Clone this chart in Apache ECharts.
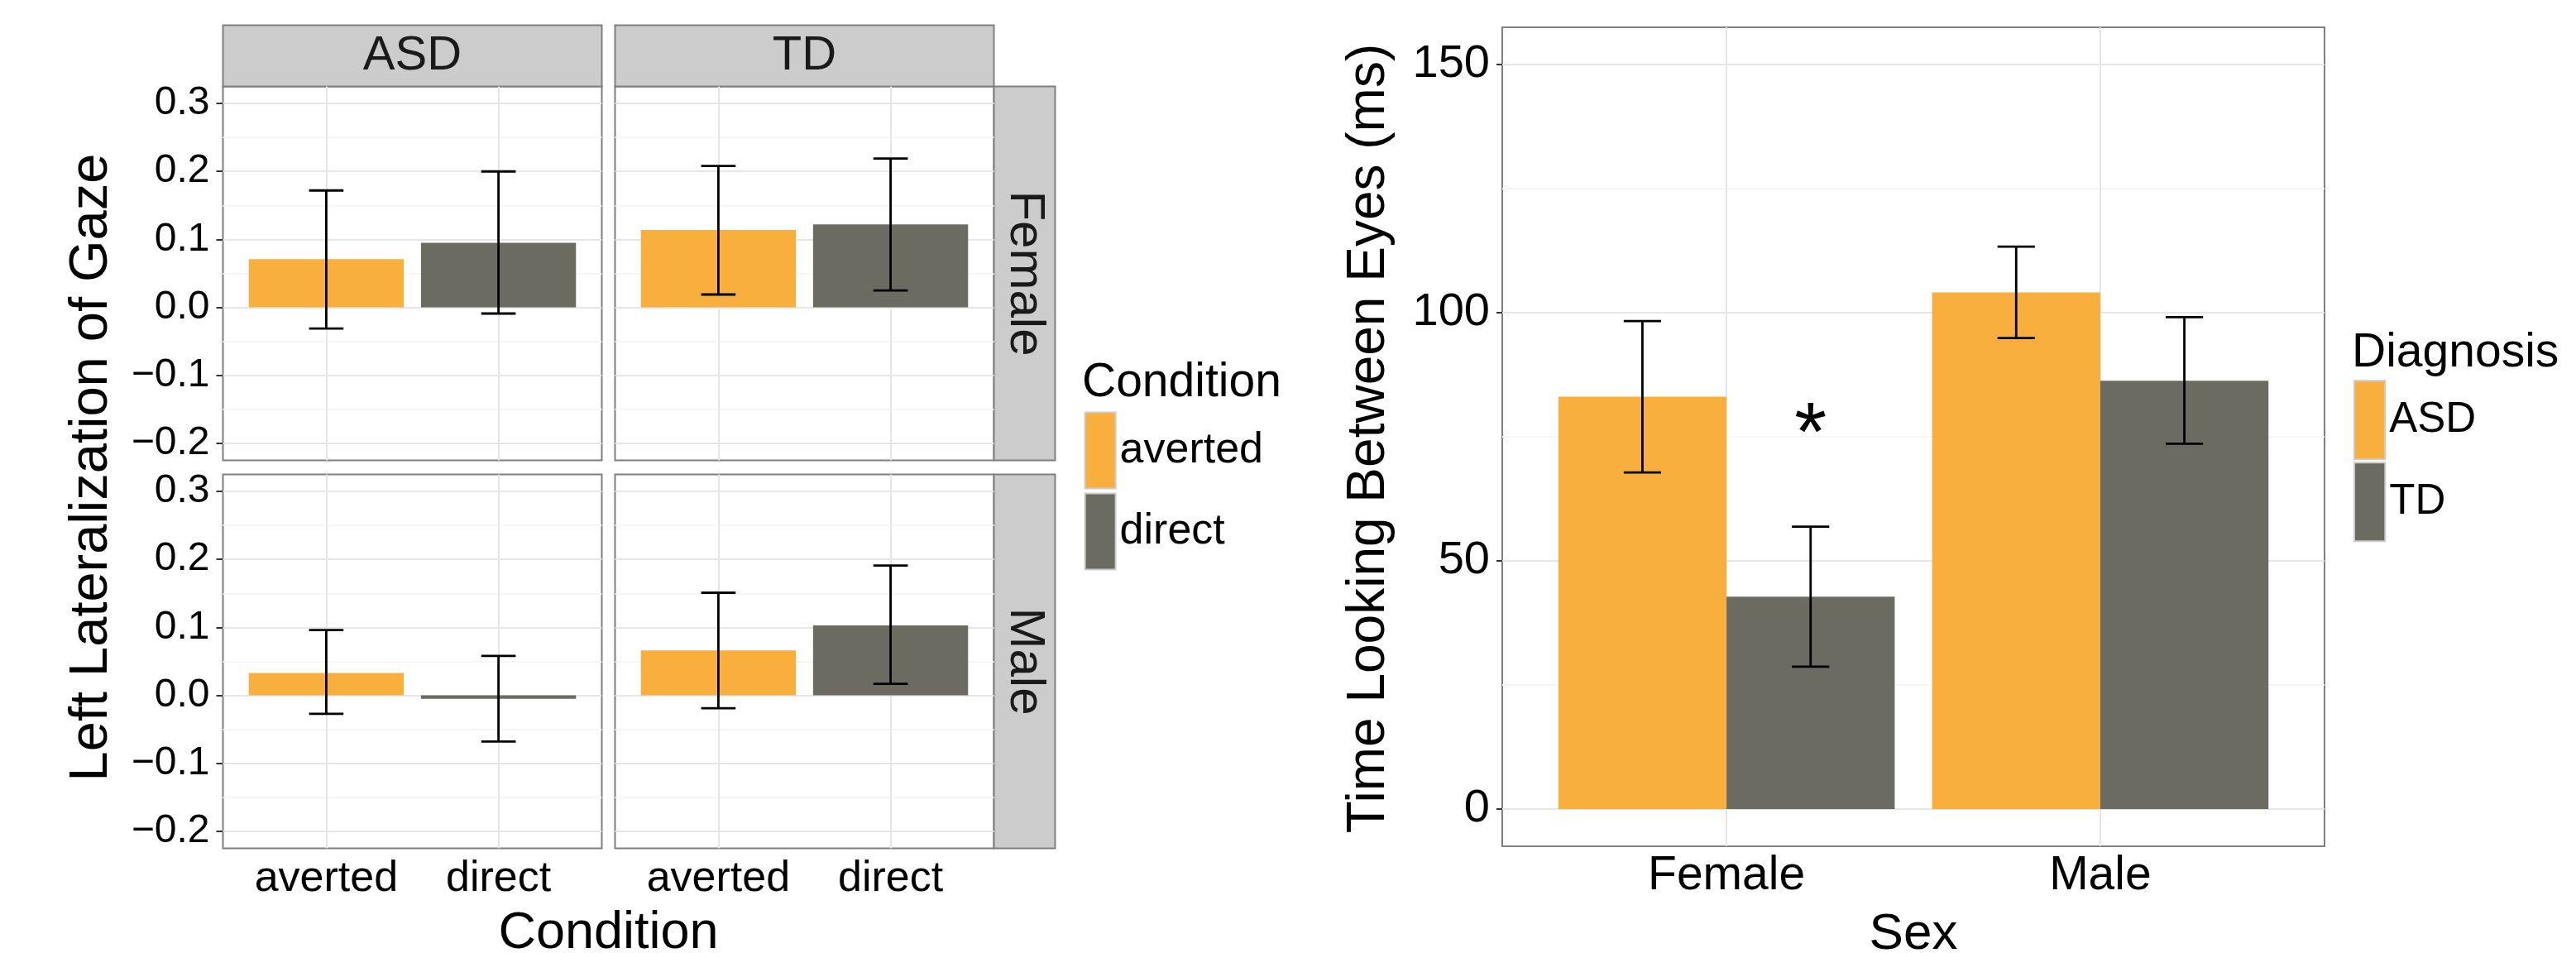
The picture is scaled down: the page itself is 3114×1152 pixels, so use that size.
<!DOCTYPE html>
<html>
<head>
<meta charset="utf-8">
<script src="https://cdn.jsdelivr.net/npm/echarts@6/dist/echarts.min.js"></script>
<style>
html,body{margin:0;padding:0;background:#fff;}
#chart{width:3114px;height:1152px;}
</style>
</head>
<body>
<div id="chart"></div>
<script>
// ---------------- DATA ----------------
const conditions = ['averted', 'direct'];
const diagnoses = ['ASD', 'TD'];
const sexes = ['Female', 'Male'];

// Left panel: Left Lateralization of Gaze, values for [averted, direct]
const latFemaleASD   = [0.071, 0.095];
const latLoFemaleASD = [-0.031, -0.009];
const latHiFemaleASD = [0.172, 0.200];

const latFemaleTD    = [0.114, 0.122];
const latLoFemaleTD  = [0.019, 0.025];
const latHiFemaleTD  = [0.208, 0.219];

const latMaleASD     = [0.033, -0.005];
const latLoMaleASD   = [-0.027, -0.068];
const latHiMaleASD   = [0.096, 0.058];

const latMaleTD      = [0.066, 0.103];
const latLoMaleTD    = [-0.019, 0.017];
const latHiMaleTD    = [0.151, 0.191];

const latTicks = [-0.2, -0.1, 0, 0.1, 0.2, 0.3];
const latMinor = [-0.15, -0.05, 0.05, 0.15, 0.25];

// Right panel: Time Looking Between Eyes (ms), values for [Female, Male]
const timeASD   = [83.1, 104.1];
const timeLoASD = [67.8, 94.9];
const timeHiASD = [98.3, 113.3];
const timeTD    = [42.8, 86.3];
const timeLoTD  = [28.7, 73.6];
const timeHiTD  = [56.9, 99.1];

const timeTicks = [0, 50, 100, 150];
const timeMinor = [25, 75, 125];

// significance annotation
const sigLabel = '*';
const sigSex = 'Female';
const sigDiagnosis = 'TD';
const sigValue = 75;

// ---------------- STYLE ----------------
const FONT = '"Liberation Sans", Helvetica, Arial, sans-serif';
const ORANGE = '#F9AF3D';
const GREY = '#6C6B62';
const BORDER = '#7f7f7f';
const MAJOR = '#e6e6e6';
const MINORC = '#f6f6f6';
const TICKC = '#333333';

const panelW = 458, panelH = 452;
const colLeft = [269.5, 743.5];
const rowTop = [104.5, 573.5];

const fmtLat = v => (v < -1e-9 ? '\u2212' : '') + Math.abs(v).toFixed(1);

function renderBar(halfWidth, offset) {
  return function (params, api) {
    const x = api.value(0) + offset, y = api.value(1);
    const p0 = api.coord([x - halfWidth, 0]);
    const p1 = api.coord([x + halfWidth, y]);
    return {
      type: 'rect',
      shape: { x: p0[0], y: Math.min(p0[1], p1[1]), width: p1[0] - p0[0], height: Math.abs(p1[1] - p0[1]) },
      style: { fill: api.visual('color') }
    };
  };
}
function renderErr(capHalf, offsets) {
  return function (params, api) {
    const x = api.value(0) + offsets[params.dataIndex % offsets.length];
    const lo = api.value(1), hi = api.value(2);
    const t = api.coord([x, hi]), b = api.coord([x, lo]);
    const l = api.coord([x - capHalf, hi])[0], r = api.coord([x + capHalf, hi])[0];
    const st = { stroke: '#000', lineWidth: 2.8 };
    return {
      type: 'group',
      children: [
        { type: 'line', shape: { x1: t[0], y1: t[1], x2: b[0], y2: b[1] }, style: st },
        { type: 'line', shape: { x1: l, y1: t[1], x2: r, y2: t[1] }, style: st },
        { type: 'line', shape: { x1: l, y1: b[1], x2: r, y2: b[1] }, style: st }
      ]
    };
  };
}
function gridLines(majorY, minorY, majorX) {
  const data = [];
  minorY.forEach(v => data.push({ yAxis: v, lineStyle: { color: MINORC, width: 2, type: 'solid' } }));
  majorY.forEach(v => data.push({ yAxis: v, lineStyle: { color: MAJOR, width: 2, type: 'solid' } }));
  majorX.forEach(v => data.push({ xAxis: v, lineStyle: { color: MAJOR, width: 2, type: 'solid' } }));
  return { silent: true, symbol: ['none', 'none'], label: { show: false }, animation: false, z: 1, data: data };
}

const panels = [
  { row: 0, col: 0, mean: latFemaleASD, lo: latLoFemaleASD, hi: latHiFemaleASD },
  { row: 0, col: 1, mean: latFemaleTD,  lo: latLoFemaleTD,  hi: latHiFemaleTD },
  { row: 1, col: 0, mean: latMaleASD,   lo: latLoMaleASD,   hi: latHiMaleASD },
  { row: 1, col: 1, mean: latMaleTD,    lo: latLoMaleTD,    hi: latHiMaleTD }
];

const grids = [], xAxes = [], yAxes = [], series = [];
const catPos = conditions.map((c, k) => k + 1);

panels.forEach((p, i) => {
  grids.push({ left: colLeft[p.col], top: rowTop[p.row], width: panelW, height: panelH,
    show: true, backgroundColor: '#fff', borderColor: BORDER, borderWidth: 2,
    containLabel: false, outerBoundsMode: 'none' });
  xAxes.push({ type: 'value', gridIndex: i, min: 0.4, max: 2.6,
    axisLine: { show: false }, splitLine: { show: false },
    axisTick: { show: p.row === 1, customValues: catPos, length: 7, lineStyle: { color: TICKC, width: 2 } },
    axisLabel: { show: p.row === 1, customValues: catPos, formatter: v => conditions[Math.round(v) - 1],
      fontSize: 52, color: '#000', margin: 11, fontFamily: FONT } });
  yAxes.push({ type: 'value', gridIndex: i, min: -0.225, max: 0.325,
    axisLine: { show: false }, splitLine: { show: false },
    axisTick: { show: p.col === 0, customValues: latTicks, length: 8, lineStyle: { color: TICKC, width: 2 } },
    axisLabel: { show: p.col === 0, customValues: latTicks, formatter: fmtLat,
      fontSize: 48, color: '#000', margin: 16, fontFamily: FONT } });
  conditions.forEach((c, k) => {
    const s = { type: 'custom', name: c, xAxisIndex: i, yAxisIndex: i, z: 2,
      itemStyle: { color: k === 0 ? ORANGE : GREY },
      data: [[catPos[k], p.mean[k]]], renderItem: renderBar(0.45, 0), animation: false };
    if (k === 0) s.markLine = gridLines(latTicks, latMinor, catPos);
    series.push(s);
  });
  series.push({ type: 'custom', name: 'err' + i, xAxisIndex: i, yAxisIndex: i, z: 3,
    encode: { x: 0, y: [1, 2] },
    data: conditions.map((c, k) => [catPos[k], p.lo[k], p.hi[k]]),
    renderItem: renderErr(0.1, [0]), animation: false });
});

// Right plot
const ri = 4;
const sexPos = sexes.map((s, k) => k + 1);
grids.push({ left: 1816, top: 33, width: 994, height: 990, show: true, backgroundColor: '#fff',
  borderColor: BORDER, borderWidth: 2, containLabel: false, outerBoundsMode: 'none' });
xAxes.push({ type: 'value', gridIndex: ri, min: 0.4, max: 2.6,
  axisLine: { show: false }, splitLine: { show: false },
  axisTick: { show: true, customValues: sexPos, length: 7, lineStyle: { color: TICKC, width: 2 } },
  axisLabel: { show: true, customValues: sexPos, formatter: v => sexes[Math.round(v) - 1],
    fontSize: 57, color: '#000', margin: 8, fontFamily: FONT } });
yAxes.push({ type: 'value', gridIndex: ri, min: -7.5, max: 157.5,
  axisLine: { show: false }, splitLine: { show: false },
  axisTick: { show: true, customValues: timeTicks, length: 7, lineStyle: { color: TICKC, width: 2 } },
  axisLabel: { show: true, customValues: timeTicks, formatter: v => String(v),
    fontSize: 56, color: '#000', margin: 15, fontFamily: FONT } });

const dodge = [-0.225, 0.225];
const timeMeans = [timeASD, timeTD], timeLos = [timeLoASD, timeLoTD], timeHis = [timeHiASD, timeHiTD];
diagnoses.forEach((d, k) => {
  const s = { type: 'custom', name: d, xAxisIndex: ri, yAxisIndex: ri, z: 2,
    itemStyle: { color: k === 0 ? ORANGE : GREY },
    data: sexPos.map((x, j) => [x, timeMeans[k][j]]), renderItem: renderBar(0.225, dodge[k]), animation: false };
  if (k === 0) s.markLine = gridLines(timeTicks, timeMinor, sexPos);
  series.push(s);
  series.push({ type: 'custom', name: 'err' + d, xAxisIndex: ri, yAxisIndex: ri, z: 3,
    encode: { x: 0, y: [1, 2] },
    data: sexPos.map((x, j) => [x, timeLos[k][j], timeHis[k][j]]),
    renderItem: renderErr(0.05, [dodge[k]]), animation: false });
});
series.push({ type: 'custom', name: 'sig', xAxisIndex: ri, yAxisIndex: ri, z: 4,
  data: [[sexPos[sexes.indexOf(sigSex)], sigValue]],
  renderItem: function (params, api) {
    const p = api.coord([api.value(0) + dodge[diagnoses.indexOf(sigDiagnosis)], api.value(1)]);
    return { type: 'text', x: p[0], y: p[1],
      style: { text: sigLabel, fontSize: 100, fontFamily: FONT, fill: '#000', align: 'center', verticalAlign: 'middle' } };
  }, animation: false });

// strips and titles
const graphics = [];
diagnoses.forEach((d, c) => {
  graphics.push({ type: 'rect', shape: { x: colLeft[c], y: 30.5, width: panelW, height: 74 },
    style: { fill: '#cccccc', stroke: BORDER, lineWidth: 2 } });
  graphics.push({ type: 'text', x: colLeft[c] + panelW / 2, y: 67.5,
    style: { text: d, fontSize: 58, fontFamily: FONT, fill: '#1a1a1a', align: 'center', verticalAlign: 'middle' } });
});
sexes.forEach((s, r) => {
  graphics.push({ type: 'rect', shape: { x: colLeft[1] + panelW, y: rowTop[r], width: 74, height: panelH },
    style: { fill: '#cccccc', stroke: BORDER, lineWidth: 2 } });
  graphics.push({ type: 'text', x: colLeft[1] + panelW + 37.5, y: rowTop[r] + panelH / 2, rotation: -Math.PI / 2,
    style: { text: s, fontSize: 60, fontFamily: FONT, fill: '#1a1a1a', align: 'center', verticalAlign: 'middle' } });
});
const titleStyle = (t, sz, al) => ({ text: t, fontSize: sz, fontFamily: FONT, fill: '#000', align: al || 'center', verticalAlign: 'middle' });
graphics.push({ type: 'text', x: 111, y: 565, rotation: Math.PI / 2, style: titleStyle('Left Lateralization of Gaze', 65) });
graphics.push({ type: 'text', x: 735.5, y: 1129, style: titleStyle('Condition', 63) });
graphics.push({ type: 'text', x: 1655.5, y: 530, rotation: Math.PI / 2, style: titleStyle('Time Looking Between Eyes (ms)', 64) });
graphics.push({ type: 'text', x: 2313, y: 1130, style: titleStyle('Sex', 62) });
graphics.push({ type: 'text', x: 1308, y: 463, style: titleStyle('Condition', 57, 'left') });
graphics.push({ type: 'text', x: 2843, y: 427.5, style: titleStyle('Diagnosis', 57, 'left') });

const option = {
  animation: false,
  backgroundColor: '#ffffff',
  textStyle: { fontFamily: FONT },
  grid: grids,
  xAxis: xAxes,
  yAxis: yAxes,
  legend: [
    { data: conditions, orient: 'vertical', left: 1310.6, top: 497.4, padding: 0,
      itemWidth: 37, itemHeight: 92, itemGap: 4, icon: 'rect', selectedMode: false,
      itemStyle: { borderColor: '#cccccc', borderWidth: 2 },
      textStyle: { fontSize: 52, color: '#000', fontFamily: FONT } },
    { data: diagnoses, orient: 'vertical', left: 2845, top: 459.3, padding: 0,
      itemWidth: 37.3, itemHeight: 95, itemGap: 2, icon: 'rect', selectedMode: false,
      itemStyle: { borderColor: '#cccccc', borderWidth: 2 },
      textStyle: { fontSize: 51, color: '#000', fontFamily: FONT } }
  ],
  graphic: graphics,
  series: series
};

const chart = echarts.init(document.getElementById('chart'), null, { renderer: 'canvas' });
chart.setOption(option);
</script>
</body>
</html>
